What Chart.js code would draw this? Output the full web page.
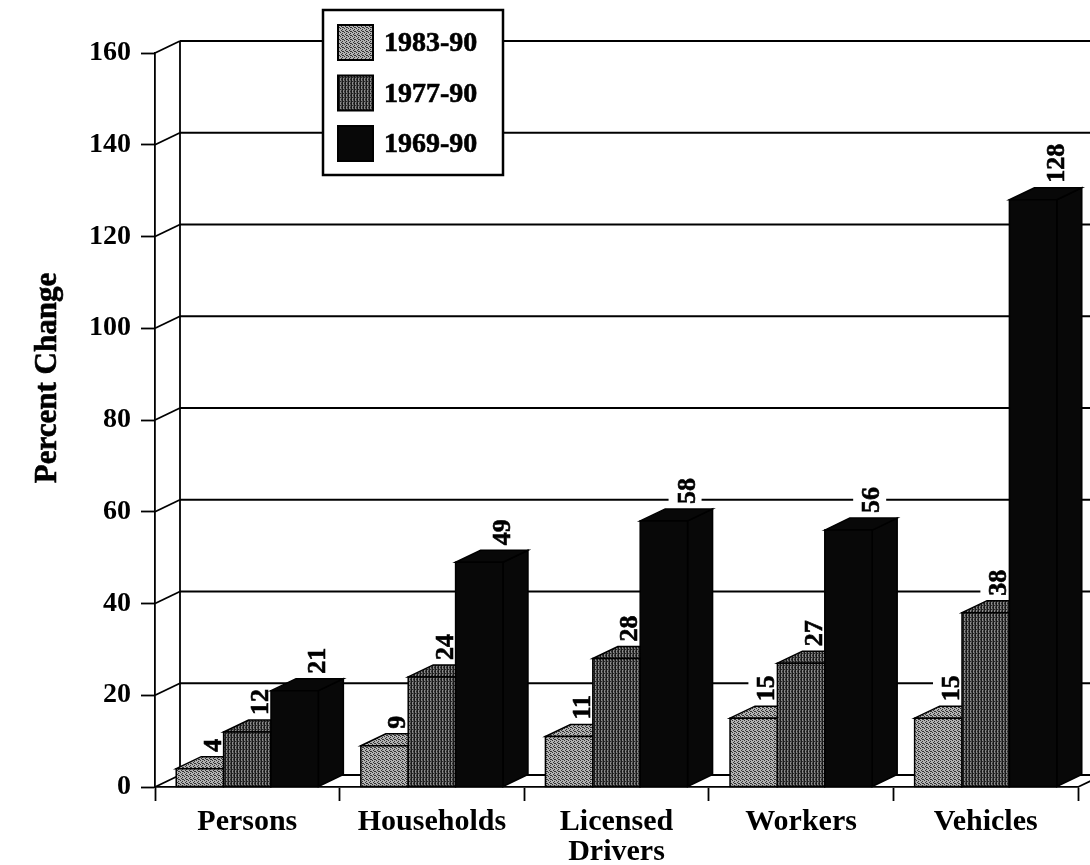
<!DOCTYPE html>
<html>
<head>
<meta charset="utf-8">
<script src="https://cdn.jsdelivr.net/npm/chart.js@4.4.0/dist/chart.umd.min.js"></script>
<style>
  body { margin: 0; background: #fff; }
  #wrap { width: 1090px; height: 865px; }
</style>
</head>
<body>
<div id="wrap"><canvas id="chart" width="1090" height="865"></canvas></div>
<script>
const categories = ['Persons', 'Households', ['Licensed', 'Drivers'], 'Workers', 'Vehicles'];
const periods = ['1983-90', '1977-90', '1969-90'];
const change1983 = [4, 9, 11, 15, 15];
const change1977 = [12, 24, 28, 27, 38];
const change1969 = [21, 49, 58, 56, 128];
const yMin = 0, yMax = 160, yStep = 20;

const SERIF = '"Liberation Serif", "Times New Roman", serif';
const DX = 25, DY = -12;   // depth offset of the 3d boxes and walls

const ctx = document.getElementById('chart').getContext('2d');

function makePattern(w, h, paint) {
  const c = document.createElement('canvas');
  c.width = w; c.height = h;
  paint(c.getContext('2d'));
  return ctx.createPattern(c, 'repeat');
}

// light stipple
const stipple = makePattern(4, 4, g => {
  g.fillStyle = '#b2b2b2';
  g.fillRect(0, 0, 4, 4);
  g.fillStyle = '#333';
  [[0, 0], [2, 1], [1, 2], [3, 3], [2, 3]].forEach(([px, py]) => g.fillRect(px, py, 1, 1));
});

// dark vertical stripes
const stripes = makePattern(3, 4, g => {
  g.fillStyle = '#1a1a1a'; g.fillRect(0, 0, 1, 4);
  g.fillStyle = '#8a8a8a'; g.fillRect(1, 0, 1, 4);
  g.fillStyle = '#555'; g.fillRect(2, 0, 1, 4);
  g.fillStyle = '#2a2a2a'; g.fillRect(1, 1, 1, 1); g.fillRect(2, 3, 1, 1);
});

const fills = [stipple, stripes, '#080808'];

function line(c, x1, y1, x2, y2) {
  c.beginPath(); c.moveTo(x1, y1); c.lineTo(x2, y2); c.stroke();
}

function poly(c, pts) {
  c.beginPath();
  pts.forEach(([px, py], k) => k ? c.lineTo(px, py) : c.moveTo(px, py));
  c.closePath();
  c.fill();
  c.stroke();
}

function drawBox(c, bar, fill) {
  const { x, y, base, width } = bar.getProps(['x', 'y', 'base', 'width'], true);
  const l = x - width / 2, r = x + width / 2;
  c.fillStyle = fill;
  poly(c, [[r, y], [r + DX, y + DY], [r + DX, base + DY], [r, base]]);
  poly(c, [[l, y], [l + DX, y + DY], [r + DX, y + DY], [r, y]]);
  poly(c, [[l, y], [r, y], [r, base], [l, base]]);
}

// value labels sit above each box, rotated
function labelSpots(chart) {
  const out = [];
  const n = chart.data.datasets.length;
  chart.data.datasets.forEach((ds, i) => {
    chart.getDatasetMeta(i).data.forEach((bar, j) => {
      const { x, y, width } = bar.getProps(['x', 'y', 'width'], true);
      const r = x + width / 2;
      out.push({ text: String(ds.data[j]), bx: i === n - 1 ? r + 7 : r - 3, sy: y - 17 });
    });
  });
  return out;
}

const box3d = {
  id: 'box3d',
  beforeDatasetsDraw(chart) {
    const { ctx: c, chartArea: a, scales: { y } } = chart;
    c.save();
    c.strokeStyle = '#000';
    c.lineWidth = 1.8;

    // walls
    for (let v = yMin; v <= yMax; v += yStep) {
      const py = y.getPixelForValue(v);
      line(c, a.left, py, a.left + DX, py + DY);
      line(c, a.left + DX, py + DY, chart.width, py + DY);
    }
    line(c, a.left + DX, y.getPixelForValue(yMax) + DY, a.left + DX, y.getPixelForValue(yMin) + DY);
    line(c, a.right, a.bottom, a.right + DX, a.bottom + DY);

    // label backgrounds knock out the grid lines
    const spots = labelSpots(chart);
    c.font = 'bold 26px ' + SERIF;
    spots.forEach(s => {
      const m = c.measureText(s.text);
      c.save();
      c.translate(s.bx, s.sy);
      c.rotate(-Math.PI / 2);
      c.fillStyle = '#fff';
      c.fillRect(-3, -m.fontBoundingBoxAscent - 3, m.width + 6, m.fontBoundingBoxAscent + m.fontBoundingBoxDescent + 4);
      c.restore();
    });

    // boxes
    c.lineWidth = 1.5;
    c.lineJoin = 'miter';
    chart.data.datasets.forEach((ds, i) => {
      chart.getDatasetMeta(i).data.forEach(bar => drawBox(c, bar, ds.backgroundColor));
    });

    // label text
    c.fillStyle = '#000';
    c.strokeStyle = '#000';
    c.lineWidth = 0.6;
    c.textAlign = 'left';
    c.textBaseline = 'alphabetic';
    spots.forEach(s => {
      c.save();
      c.translate(s.bx, s.sy);
      c.rotate(-Math.PI / 2);
      c.fillText(s.text, 0, 0);
      c.strokeText(s.text, 0, 0);
      c.restore();
    });
    c.restore();
    return false;
  },
  afterDraw(chart) {
    const c = chart.ctx;
    c.save();
    // axis title
    c.fillStyle = '#000';
    c.strokeStyle = '#000';
    c.lineWidth = 0.6;
    c.font = 'bold 31px ' + SERIF;
    c.translate(56, 378);
    c.rotate(-Math.PI / 2);
    c.textAlign = 'center';
    c.textBaseline = 'alphabetic';
    c.fillText('Percent Change', 0, 0);
    c.strokeText('Percent Change', 0, 0);
    c.restore();

    // legend
    c.save();
    c.fillStyle = '#fff';
    c.strokeStyle = '#000';
    c.lineWidth = 2.5;
    c.fillRect(323, 10, 180, 165);
    c.strokeRect(323, 10, 180, 165);
    c.font = 'bold 28px ' + SERIF;
    c.textBaseline = 'middle';
    chart.data.datasets.forEach((ds, i) => {
      const top = 25 + i * 50.5;
      c.lineWidth = 2;
      c.fillStyle = ds.backgroundColor;
      c.fillRect(338, top, 35, 35);
      c.strokeRect(338, top, 35, 35);
      c.fillStyle = '#000';
      c.lineWidth = 0.6;
      c.fillText(ds.label, 384, top + 19);
      c.strokeText(ds.label, 384, top + 19);
    });
    c.restore();
  }
};

new Chart(ctx, {
  type: 'bar',
  data: {
    labels: categories,
    datasets: [
      { label: periods[0], data: change1983, backgroundColor: fills[0] },
      { label: periods[1], data: change1977, backgroundColor: fills[1] },
      { label: periods[2], data: change1969, backgroundColor: fills[2] }
    ]
  },
  options: {
    responsive: false,
    animation: false,
    layout: { padding: { top: 53, right: 12, left: 0, bottom: 0 } },
    datasets: { bar: { categoryPercentage: 0.77, barPercentage: 1 } },
    plugins: { legend: { display: false }, tooltip: { enabled: false } },
    scales: {
      x: {
        grid: { drawOnChartArea: false, offset: true, tickLength: 14, tickWidth: 1.8, tickColor: '#000' },
        border: { color: '#000', width: 1.8 },
        ticks: {
          color: '#000',
          font: { family: SERIF, weight: 'bold', size: 30, lineHeight: 1.0 },
          padding: 6,
          maxRotation: 0,
          autoSkip: false
        },
        afterFit: s => { s.height = 865 - 787; }
      },
      y: {
        min: yMin,
        max: yMax,
        ticks: { stepSize: yStep, color: '#000', font: { family: SERIF, weight: 'bold', size: 28 }, padding: 10 },
        grid: { drawOnChartArea: false, tickLength: 14, tickWidth: 1.8, tickColor: '#000' },
        border: { color: '#000', width: 1.8 },
        afterFit: s => { s.width = 155; }
      }
    }
  },
  plugins: [box3d]
});
</script>
</body>
</html>
